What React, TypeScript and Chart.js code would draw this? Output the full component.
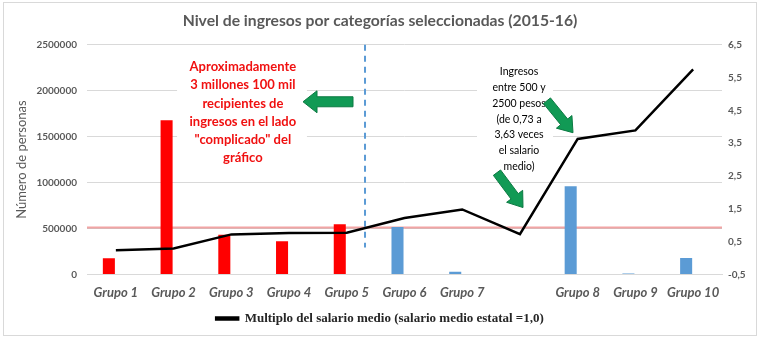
import React, { useEffect, useRef } from "react";
import { Chart, registerables } from "chart.js";

Chart.register(...registerables);

// ---------- data ----------
const categorias = ["Grupo 1", "Grupo 2", "Grupo 3", "Grupo 4", "Grupo 5", "Grupo 6", "Grupo 7", "", "Grupo 8", "Grupo 9", "Grupo 10"];
const personas = [175000, 1680000, 432000, 362000, 545000, 515000, 30000, null, 960000, 10000, 178000];
const serieVacia = [null, null, null, null, null, null, null, null, null, null, null];
const multiploSalario = [0.24, 0.29, 0.72, 0.76, 0.77, 1.22, 1.48, 0.73, 3.63, 3.89, 5.75];
const ROJO = "#ff0000";
const AZUL = "#5b9bd5";
const coloresBarras = [ROJO, ROJO, ROJO, ROJO, ROJO, AZUL, AZUL, AZUL, AZUL, AZUL, AZUL];
const ticksIzquierda = { min: 0, max: 2500000, step: 500000 };
const ticksDerecha = { min: -0.5, max: 6.5, step: 1 };
const lineaReferencia = 0.93;

const titulo = "Nivel de ingresos por categorías seleccionadas (2015-16)";
const tituloEje = "Número de personas";
const leyenda = "Multiplo del salario medio (salario medio estatal =1,0)";
const textoRojo = ["Aproximadamente", "3 millones 100 mil", "recipientes de", "ingresos en el lado", "\"complicado\" del", "gráfico"];
const textoNegro = ["Ingresos", "entre 500 y", "2500 pesos", "(de 0,73 a", "3,63 veces", "el salario", "medio)"];

// annotation anchors in (category index, left-axis value)
const anclaTextoRojo = { xi: 2.2, v: 2261000 };
const cajaRoja = { x0: 1.06, x1: 3.31, v0: 2391000, v1: 1087000 };
const anclaTextoNegro = { xi: 6.984, v: 2206000 };
const cajaNegra = { x0: 6.256, x1: 7.573, v0: 2315000, v1: 1076000 };
const flechas = [
  { from: { xi: 4.108, v: 1880000 }, to: { xi: 3.242, v: 1880000 }, shaft: 10, head: 22, headLen: 14 },
  { from: { xi: 7.468, v: 1891000 }, to: { xi: 7.919, v: 1543000 }, shaft: 9, head: 20, headLen: 14 },
  { from: { xi: 6.602, v: 1108000 }, to: { xi: 7.053, v: 728000 }, shaft: 9, head: 20, headLen: 14 },
];
const lineaDivisoria = { xi: 4.316, vBottom: 293000 };

const GRIS = "#595959";

function dibujarFlecha(ctx: CanvasRenderingContext2D, x0: number, y0: number, x1: number, y1: number, shaft: number, head: number, headLen: number) {
  const dx = x1 - x0, dy = y1 - y0;
  const len = Math.hypot(dx, dy);
  const ux = dx / len, uy = dy / len;
  const nx = -uy, ny = ux;
  const bx = x1 - ux * headLen, by = y1 - uy * headLen;
  ctx.beginPath();
  ctx.moveTo(x0 + nx * shaft / 2, y0 + ny * shaft / 2);
  ctx.lineTo(bx + nx * shaft / 2, by + ny * shaft / 2);
  ctx.lineTo(bx + nx * head / 2, by + ny * head / 2);
  ctx.lineTo(x1, y1);
  ctx.lineTo(bx - nx * head / 2, by - ny * head / 2);
  ctx.lineTo(bx - nx * shaft / 2, by - ny * shaft / 2);
  ctx.lineTo(x0 - nx * shaft / 2, y0 - ny * shaft / 2);
  ctx.closePath();
  ctx.fillStyle = "#119a55";
  ctx.fill();
  ctx.strokeStyle = "#0b7a42";
  ctx.lineWidth = 1;
  ctx.stroke();
}

const anotaciones = {
  id: "anotaciones",
  beforeDraw(chart: any) {
    const ctx = chart.ctx;
    ctx.save();
    ctx.fillStyle = "#ffffff";
    ctx.fillRect(0, 0, chart.width, chart.height);
    ctx.strokeStyle = "#d9d9d9";
    ctx.lineWidth = 1;
    ctx.strokeRect(3.5, 2.5, chart.width - 7, chart.height - 6);
    ctx.restore();
  },
  beforeDatasetsDraw(chart: any) {
    const ctx = chart.ctx;
    const xs = chart.scales.x, ys = chart.scales.y, y1 = chart.scales.y1;
    const area = chart.chartArea;
    const X = (i: number) => xs.getPixelForValue(i);
    const Y = (v: number) => ys.getPixelForValue(v);
    ctx.save();

    // white boxes behind text
    ctx.fillStyle = "#ffffff";
    for (const c of [cajaRoja, cajaNegra]) {
      ctx.fillRect(X(c.x0), Y(c.v0), X(c.x1) - X(c.x0), Y(c.v1) - Y(c.v0));
    }

    // reference line (salario medio)
    const yr = y1.getPixelForValue(lineaReferencia);
    ctx.strokeStyle = "rgba(232,90,90,0.55)";
    ctx.lineWidth = 2;
    ctx.beginPath();
    ctx.moveTo(area.left, yr);
    ctx.lineTo(area.right, yr);
    ctx.stroke();

    // dashed divider
    const xd = X(lineaDivisoria.xi);
    ctx.strokeStyle = AZUL;
    ctx.lineWidth = 2;
    ctx.setLineDash([6, 5]);
    ctx.beginPath();
    ctx.moveTo(xd, area.top);
    ctx.lineTo(xd, Y(lineaDivisoria.vBottom));
    ctx.stroke();
    ctx.setLineDash([]);

    // texts
    ctx.textAlign = "center";
    ctx.textBaseline = "middle";
    ctx.fillStyle = "#f01010";
    ctx.font = "bold 13px Lato";
    const xr = X(anclaTextoRojo.xi), yr0 = Y(anclaTextoRojo.v);
    textoRojo.forEach((t, i) => ctx.fillText(t, xr, yr0 + i * 18.3));
    ctx.fillStyle = "#000000";
    ctx.font = "10.5px Lato";
    const xn = X(anclaTextoNegro.xi), yn0 = Y(anclaTextoNegro.v);
    textoNegro.forEach((t, i) => ctx.fillText(t, xn, yn0 + i * 15.8));

    // arrows
    for (const f of flechas) {
      dibujarFlecha(ctx, X(f.from.xi), Y(f.from.v), X(f.to.xi), Y(f.to.v), f.shaft, f.head, f.headLen);
    }
    ctx.restore();
  },
};

export default function App() {
  const ref = useRef<HTMLCanvasElement | null>(null);
  useEffect(() => {
    if (!ref.current) return;
    const chart = new Chart(ref.current, {
      type: "bar",
      data: {
        labels: categorias,
        datasets: [
          {
            type: "line",
            label: leyenda,
            data: multiploSalario,
            yAxisID: "y1",
            borderColor: "#000000",
            backgroundColor: "#000000",
            borderWidth: 2.5,
            pointRadius: 0,
            tension: 0,
            order: 0,
          } as any,
          {
            type: "bar",
            label: tituloEje,
            data: personas,
            yAxisID: "y",
            backgroundColor: coloresBarras,
            categoryPercentage: 0.485,
            barPercentage: 0.86,
            order: 1,
          } as any,
          {
            type: "bar",
            label: "",
            data: serieVacia,
            yAxisID: "y",
            backgroundColor: "#a5a5a5",
            categoryPercentage: 0.485,
            barPercentage: 0.86,
            order: 2,
          } as any,
        ],
      },
      options: {
        responsive: false,
        animation: false,
        layout: { padding: { left: 0, right: 0, top: 0, bottom: 4 } },
        plugins: {
          tooltip: { enabled: false },
          title: {
            display: true,
            text: titulo,
            color: GRIS,
            font: { family: "Lato", size: 15.7, weight: "bold" },
            padding: { top: 12, bottom: 14 },
          },
          legend: {
            position: "bottom",
            labels: {
              filter: (item: any) => item.datasetIndex === 0,
              boxWidth: 22,
              boxHeight: 2,
              padding: 0,
              color: "#262626",
              font: { family: "Liberation Serif", size: 13, weight: "bold" },
            },
          },
        },
        scales: {
          x: {
            grid: { display: false, drawTicks: false },
            border: { display: true, color: "#d9d9d9" },
            ticks: {
              color: GRIS,
              padding: 11,
              maxRotation: 0,
              autoSkip: false,
              font: { family: "Lato", size: 13, weight: "bold", style: "italic" },
            },
          },
          y: {
            position: "left",
            min: ticksIzquierda.min,
            max: ticksIzquierda.max,
            grid: { color: "#d9d9d9", lineWidth: 1, drawTicks: false },
            border: { display: false },
            ticks: {
              stepSize: ticksIzquierda.step,
              color: GRIS,
              padding: 10,
              font: { family: "Lato", size: 10, weight: "bold" },
              callback: (v: any) => String(v),
            },
            title: {
              display: true,
              text: tituloEje,
              color: GRIS,
              font: { family: "Lato", size: 13 },
              padding: { top: 14, bottom: 0 },
            },
            afterFit: (s: any) => { s.width = 87; },
          },
          y1: {
            position: "right",
            min: ticksDerecha.min,
            max: ticksDerecha.max,
            grid: { display: false, drawTicks: false },
            border: { display: false },
            ticks: {
              stepSize: ticksDerecha.step,
              color: GRIS,
              padding: 6,
              font: { family: "Lato", size: 10, weight: "bold" },
              callback: (v: any) => Number(v).toFixed(1).replace(".", ","),
            },
            afterFit: (s: any) => { s.width = 38; },
          },
        },
      } as any,
      plugins: [anotaciones],
    });
    return () => chart.destroy();
  }, []);
  return (
    <div style={{ position: "absolute", left: 0, top: 0, width: 760, height: 339 }}>
      <canvas ref={ref} width={760} height={339} style={{ width: 760, height: 339, display: "block" }} />
    </div>
  );
}
